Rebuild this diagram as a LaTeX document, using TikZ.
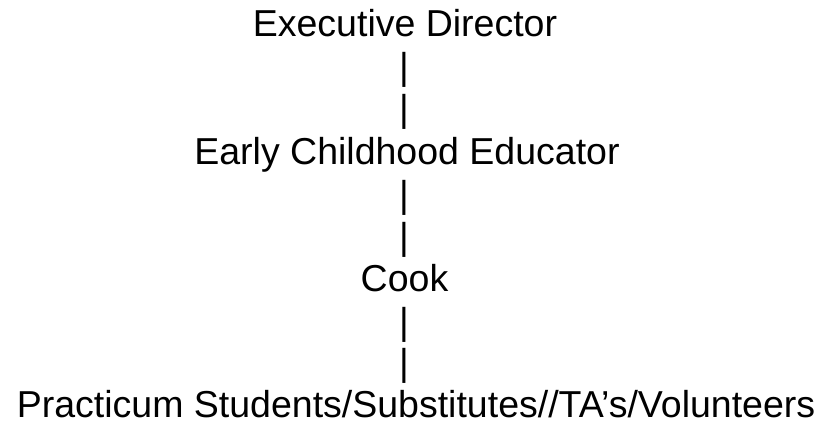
\documentclass[tikz,border=0pt]{standalone}
\usepackage{fontspec}
\setmainfont{Liberation Sans}
\usetikzlibrary{positioning}

\begin{document}
\begin{tikzpicture}[x=1pt, y=1pt,
    role/.style={inner sep=0pt, anchor=base, font=\fontsize{37.5}{42}\selectfont},
    bar/.style={role}
]
\useasboundingbox (0,0) rectangle (824,421);

\node[role] (director) at (405,384) {Executive Director};
\node[bar] (barA) at (404,341) {|};
\node[bar] (barB) at (404,299) {|};

\node[role] (educator) at (407,257) {Early Childhood Educator};
\node[bar] (barC) at (404,214) {|};
\node[bar] (barD) at (404,172) {|};

\node[role] (cook) at (404.5,130) {Cook};
\node[bar] (barE) at (404,87) {|};
\node[bar] (barF) at (404,46) {|};

\node[role] (helpers) at (416,4) {Practicum Students/Substitutes//TA’s/Volunteers};
\end{tikzpicture}
\end{document}
